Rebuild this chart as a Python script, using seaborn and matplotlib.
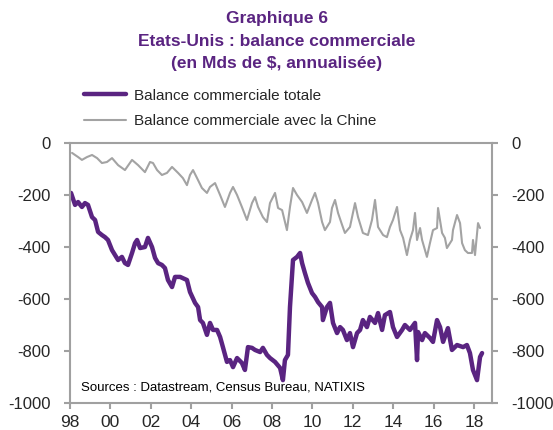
import matplotlib
matplotlib.use("Agg")
import matplotlib.pyplot as plt
import seaborn as sns
import pandas as pd

# Balance commerciale totale (Mds de $, annualisée)
total_years = [1998.05, 1998.25, 1998.40, 1998.59, 1998.74, 1998.89, 1999.09, 1999.24, 1999.39, 1999.58,
               1999.73, 1999.88, 2000.08, 2000.23, 2000.38, 2000.57, 2000.72, 2000.87, 2001.07, 2001.22,
               2001.32, 2001.47, 2001.71, 2001.86, 2002.06, 2002.21, 2002.36, 2002.55, 2002.70, 2002.85,
               2003.05, 2003.20, 2003.45, 2003.79, 2003.94, 2004.19, 2004.34, 2004.44, 2004.58, 2004.78,
               2004.93, 2005.08, 2005.28, 2005.43, 2005.57, 2005.77, 2005.92, 2006.07, 2006.27, 2006.51,
               2006.66, 2006.81, 2007.01, 2007.16, 2007.41, 2007.55, 2007.75, 2007.90, 2008.15, 2008.40,
               2008.54, 2008.64, 2008.79, 2008.89, 2009.04, 2009.24, 2009.39, 2009.49, 2009.63, 2009.78,
               2009.98, 2010.13, 2010.28, 2010.48, 2010.52, 2010.72, 2010.87, 2011.02, 2011.22, 2011.37,
               2011.51, 2011.71, 2011.86, 2012.01, 2012.21, 2012.36, 2012.50, 2012.70, 2012.85, 2013.10,
               2013.25, 2013.45, 2013.59, 2013.84, 2013.99, 2014.19, 2014.44, 2014.58, 2014.83, 2015.08,
               2015.18, 2015.23, 2015.43, 2015.57, 2015.82, 2015.97, 2016.17, 2016.32, 2016.47, 2016.71,
               2016.91, 2017.16, 2017.46, 2017.65, 2017.80, 2017.95, 2018.15, 2018.30, 2018.40]
total_values = [-192, -238, -227, -246, -231, -238, -285, -296, -342, -354,
                -362, -373, -412, -431, -450, -438, -462, -469, -423, -385,
                -373, -404, -400, -365, -400, -442, -462, -469, -481, -527,
                -554, -515, -515, -527, -573, -615, -631, -681, -692, -738,
                -692, -719, -719, -746, -785, -842, -835, -862, -827, -846,
                -873, -785, -788, -796, -804, -788, -815, -827, -842, -865,
                -912, -835, -815, -631, -450, -438, -423, -462, -500, -538,
                -577, -592, -612, -631, -681, -631, -615, -692, -731, -708,
                -719, -758, -731, -785, -731, -719, -681, -708, -669, -692,
                -654, -719, -662, -650, -708, -746, -719, -700, -719, -692,
                -835, -727, -758, -731, -750, -765, -681, -708, -765, -712,
                -796, -777, -785, -777, -808, -873, -912, -823, -808]

# Balance commerciale avec la Chine
china_years = [1998.10, 1998.40, 1998.59, 1998.84, 1999.09, 1999.34, 1999.58, 1999.83, 2000.08, 2000.38,
               2000.72, 2001.07, 2001.37, 2001.71, 2001.96, 2002.11, 2002.31, 2002.55, 2002.80, 2003.05,
               2003.35, 2003.59, 2003.79, 2003.94, 2004.09, 2004.29, 2004.53, 2004.78, 2004.93, 2005.18,
               2005.43, 2005.67, 2005.92, 2006.07, 2006.27, 2006.51, 2006.76, 2007.01, 2007.16, 2007.31,
               2007.55, 2007.75, 2007.90, 2008.15, 2008.30, 2008.50, 2008.74, 2008.89, 2009.04, 2009.24,
               2009.49, 2009.73, 2009.98, 2010.13, 2010.28, 2010.48, 2010.62, 2010.87, 2010.97, 2011.12,
               2011.27, 2011.47, 2011.61, 2011.86, 2012.11, 2012.26, 2012.50, 2012.75, 2012.95, 2013.10,
               2013.25, 2013.50, 2013.69, 2013.84, 2013.99, 2014.19, 2014.34, 2014.49, 2014.68, 2014.83,
               2014.98, 2015.08, 2015.18, 2015.33, 2015.43, 2015.67, 2015.82, 2015.97, 2016.17, 2016.22,
               2016.42, 2016.56, 2016.66, 2016.91, 2016.96, 2017.16, 2017.31, 2017.41, 2017.55, 2017.70,
               2017.90, 2017.95, 2018.05, 2018.20, 2018.30]
china_values = [-38, -54, -65, -54, -46, -58, -77, -73, -58, -85,
                -104, -65, -85, -112, -73, -77, -104, -123, -115, -92,
                -115, -135, -162, -123, -104, -135, -173, -192, -169, -154,
                -200, -246, -192, -169, -200, -246, -296, -231, -208, -246,
                -285, -304, -231, -192, -250, -258, -335, -246, -173, -200,
                -227, -269, -219, -192, -231, -304, -335, -304, -250, -219,
                -269, -315, -346, -323, -231, -285, -346, -354, -296, -219,
                -323, -354, -362, -323, -296, -246, -335, -365, -431, -373,
                -335, -269, -373, -327, -373, -438, -385, -335, -327, -250,
                -346, -365, -404, -373, -335, -277, -308, -385, -412, -423,
                -423, -373, -431, -308, -327]

tick_years = [1998, 2000, 2002, 2004, 2006, 2008, 2010, 2012, 2014, 2016, 2018]
tick_labels = ["98", "00", "02", "04", "06", "08", "10", "12", "14", "16", "18"]
y_ticks = [0, -200, -400, -600, -800, -1000]

purple = "#5a2481"
grey = "#a3a3a3"
spine_grey = "#a0a0a0"

sns.set_style("white")
plt.rcParams["font.family"] = ["Liberation Sans", "DejaVu Sans"]

df_total = pd.DataFrame({"annee": total_years, "valeur": total_values})
df_china = pd.DataFrame({"annee": china_years, "valeur": china_values})

fig = plt.figure(figsize=(5.53, 4.30), dpi=100)
ax = fig.add_axes([0.1266, 0.0628, 0.7634, 0.6046])

sns.lineplot(data=df_china, x="annee", y="valeur", ax=ax, color=grey, lw=1.5,
             estimator=None, label="Balance commerciale avec la Chine")
sns.lineplot(data=df_total, x="annee", y="valeur", ax=ax, color=purple, lw=3.2,
             estimator=None, label="Balance commerciale totale")

ax.set_xlim(1998, 2018.9)
ax.set_ylim(-1000, 0)
ax.set_xticks(tick_years)
ax.set_xticklabels(tick_labels)
ax.set_yticks(y_ticks)
ax.set_yticklabels([str(v) for v in y_ticks])
ax.set_xlabel("")
ax.set_ylabel("")

for side in ["left", "right", "top", "bottom"]:
    ax.spines[side].set_visible(True)
    ax.spines[side].set_color(spine_grey)
    ax.spines[side].set_linewidth(1.5)

ax.tick_params(axis="y", left=True, right=True, labelleft=True, labelright=True,
               length=4, width=1.5, color=spine_grey, labelsize=12, pad=10)
ax.tick_params(axis="x", bottom=True, length=4, width=1.5, color=spine_grey,
               labelsize=12.5, pad=5)

# legend above the plot: totale first, then Chine
handles, labels = ax.get_legend_handles_labels()
ax.legend([handles[1], handles[0]], [labels[1], labels[0]],
          loc="upper left", bbox_to_anchor=(0.14, 0.808), bbox_transform=fig.transFigure,
          frameon=False, fontsize=11, handlelength=2.8, handletextpad=0.5,
          labelspacing=0.75, borderaxespad=0)

fig.text(0.50, 0.974, "Graphique 6\nEtats-Unis : balance commerciale\n(en Mds de $, annualisée)",
         ha="center", va="top", fontsize=12.5, fontweight="bold", color=purple, linespacing=1.62)

ax.text(0.025, 0.06, "Sources : Datastream, Census Bureau, NATIXIS", transform=ax.transAxes,
        ha="left", va="center", fontsize=9.5, color="black")

fig.savefig("out.png", dpi=100)
